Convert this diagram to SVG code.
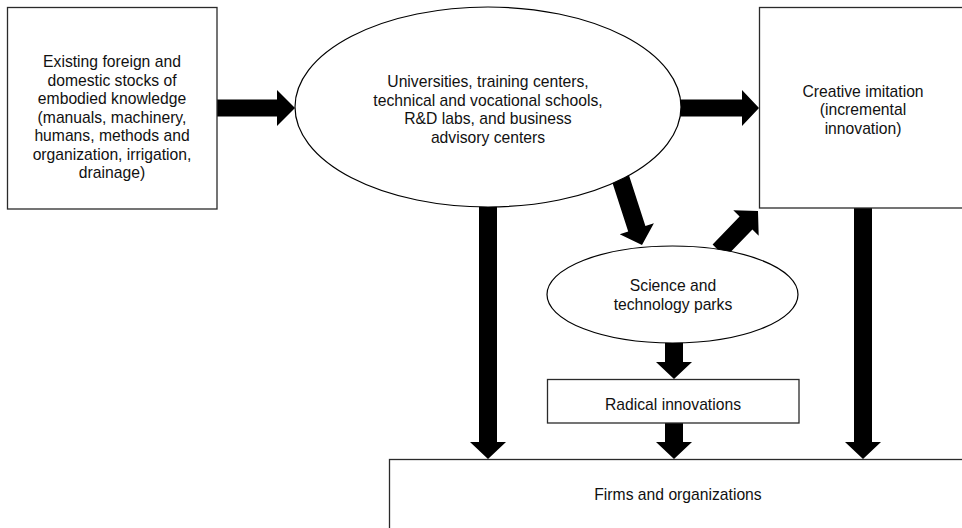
<svg xmlns="http://www.w3.org/2000/svg" width="962" height="528" viewBox="0 0 962 528">
<style>
  .box { fill: #fff; stroke: #2a2a2a; stroke-width: 1.3; }
  .ell { fill: #fff; stroke: #000; stroke-width: 1.2; }
  .arrow { fill: #000; stroke: none; }
  text { font-family: "Liberation Sans", Arial, sans-serif; font-size: 15.7px; fill: #111; text-anchor: middle; }
</style>
<rect width="962" height="528" fill="#fff"/>
<g id="connectors">
  <polygon class="arrow" points="215,99.5 277,99.5 277,90 295,108 277,126 277,116.5 215,116.5"/>
  <polygon class="arrow" points="676,99.5 742,99.5 742,90 759,108 742,126 742,116.5 676,116.5"/>
  <polygon class="arrow" points="479,200 497,200 497,442 506,442 488,459 470,442 479,442"/>
  <polygon class="arrow" points="854,205 872,205 872,442 881,442 863,459 845,442 854,442"/>
  <polygon class="arrow" points="665,338 683,338 683,362 692,362 674,379 656,362 665,362"/>
  <polygon class="arrow" points="665,421 683,421 683,442 692,442 674,459 656,442 665,442"/>
  <polygon class="arrow" points="610.9,178 628.1,172.4 645.4,226 653.9,223.3 642,245 619.7,234.3 628.2,231.6"/>
  <polygon class="arrow" points="712.6,244.6 739.6,216.6 733.3,210.3 758,211 758.7,235.7 752.4,229.4 725.4,257.4"/>
</g>
<g id="existing">
  <rect class="box" x="7.5" y="7.5" width="209.5" height="201.5"/>
  <text x="112" y="67">Existing foreign and</text>
  <text x="112" y="85.5">domestic stocks of</text>
  <text x="112" y="104">embodied knowledge</text>
  <text x="112" y="122.5">(manuals, machinery,</text>
  <text x="112" y="141">humans, methods and</text>
  <text x="112" y="159.5">organization, irrigation,</text>
  <text x="112" y="178">drainage)</text>
</g>
<g id="universities">
  <ellipse class="ell" cx="488" cy="107" rx="193" ry="100"/>
  <text x="488" y="87">Universities, training centers,</text>
  <text x="488" y="105.5">technical and vocational schools,</text>
  <text x="488" y="124">R&amp;D labs, and business</text>
  <text x="488" y="142.5">advisory centers</text>
</g>
<g id="creative">
  <rect class="box" x="759.5" y="7.5" width="212" height="200.5"/>
  <text x="863" y="96.5">Creative imitation</text>
  <text x="863" y="115">(incremental</text>
  <text x="863" y="133.5">innovation)</text>
</g>
<g id="parks">
  <ellipse class="ell" cx="672.5" cy="294.5" rx="125.5" ry="48.5"/>
  <text x="673" y="291">Science and</text>
  <text x="673" y="309.5">technology parks</text>
</g>
<g id="radical">
  <rect class="box" x="547.5" y="379.5" width="251.5" height="43.5"/>
  <text x="673" y="409.5">Radical innovations</text>
</g>
<g id="firms">
  <rect class="box" x="389.5" y="459.5" width="590" height="90"/>
  <text x="678" y="500">Firms and organizations</text>
</g>
</svg>
